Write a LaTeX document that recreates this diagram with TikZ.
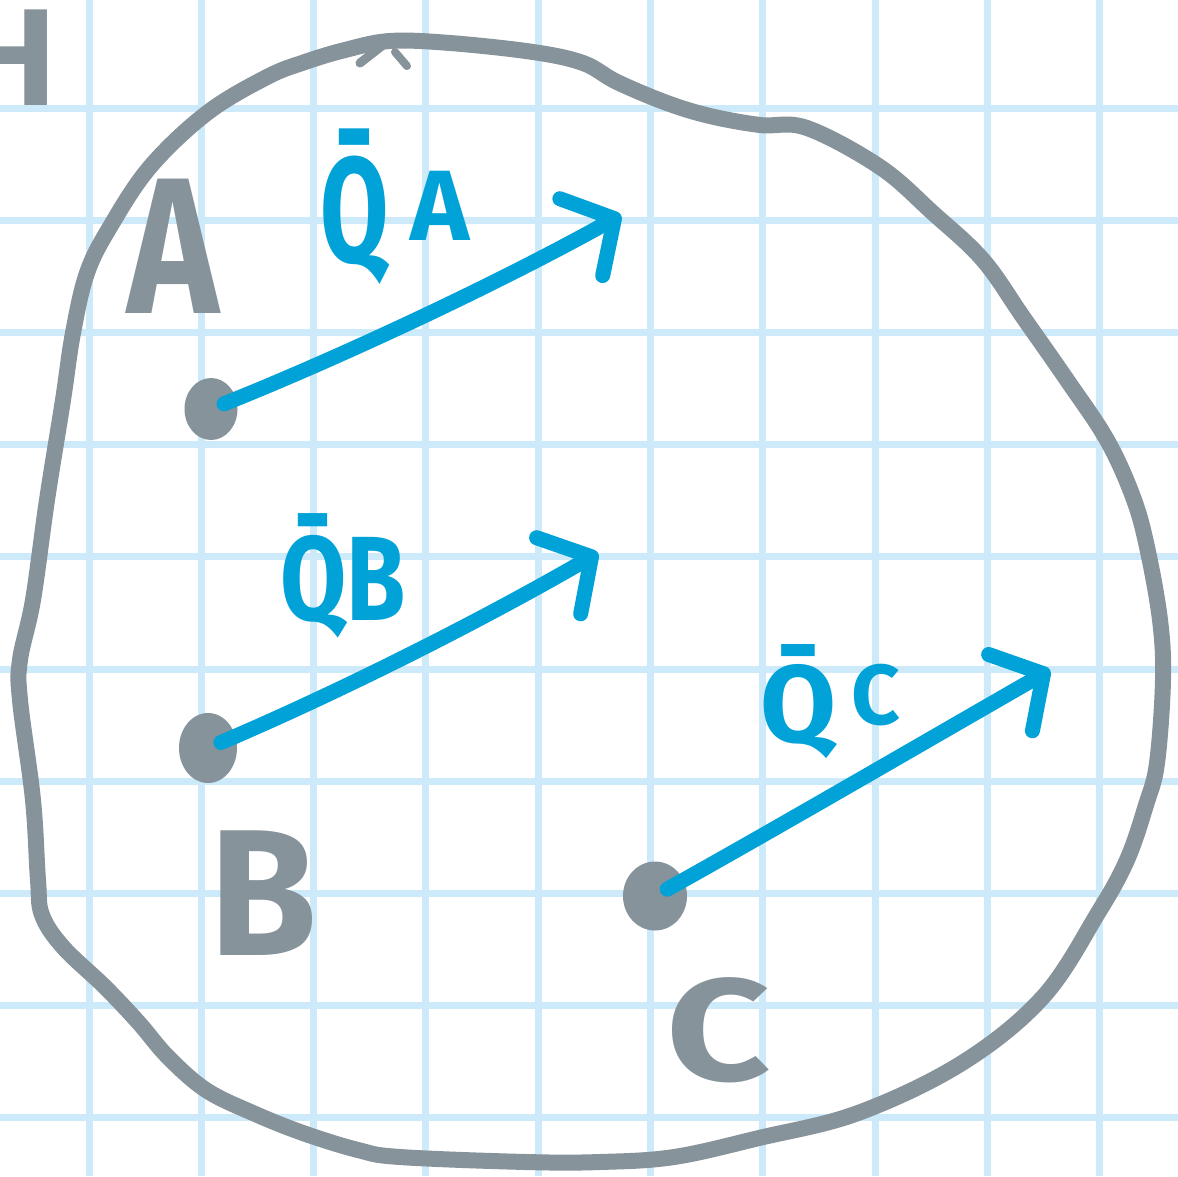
\documentclass[tikz,border=0pt]{standalone}
\usepackage{fontspec}
\setmainfont{Fira Sans}
\usetikzlibrary{arrows.meta,shapes.geometric}
\definecolor{ink}{HTML}{86939A}
\definecolor{pen}{HTML}{00A2D8}
\definecolor{gridc}{HTML}{CDEAFB}
\begin{document}
\begin{tikzpicture}[x=1pt,y=-1pt,
  outline/.style={draw=ink,line width=16pt,line cap=round,line join=round},
  dot/.style={ellipse,fill=ink,inner sep=0pt},
  vec/.style={draw=pen,line width=15pt,line cap=round,shorten <=14pt,
    -{Straight Barb[length=38pt 0 0,width=88pt 0 0,round]}},
  letter/.style={text=ink,inner sep=0pt,anchor=base},
  qlabel/.style={text=pen,inner sep=0pt,anchor=base}]
\useasboundingbox (0,0) rectangle (1178,1176);
\clip (0,0) rectangle (1178,1176);
\fill[white] (0,0) rectangle (1178,1176);
% grid paper
\foreach \k in {0,...,9} {
  \draw[gridc,line width=7pt] ({89+112.3*\k},0) -- ({89+112.3*\k},1176);
}
\foreach \k in {-1,0,...,9} {
  \draw[gridc,line width=7pt] (0,{108+112.2*\k}) -- (1178,{108+112.2*\k});
}
% outline of the body
\draw[outline] plot[smooth cycle, tension=0.6] coordinates {
  (345,50) (390,41) (450,43) (533,52) (583,63) (617,82) (667,103) (710,116)
  (760,125) (807,128) (880,167) (933,213) (983,260) (1023,317) (1067,380)
  (1107,440) (1133,497) (1147,547) (1160,620) (1163,680) (1157,763) (1146,805)
  (1127,860) (1098,913) (1043,997) (962,1063) (858,1113) (759,1138) (674,1157)
  (600,1162) (526,1162) (400,1157) (358,1150) (303,1133) (253,1113) (206,1090)
  (168,1057) (139,1023) (105,987) (63,947) (42,915) (38,880) (33,800) (20,700)
  (20,660) (33,600) (47,500) (63,400) (73,333) (87,273) (110,227) (150,167)
  (207,113) (267,77) (305,62)};
\draw[ink,line width=9pt,line cap=round] (360,63) -- (383,45);
\draw[ink,line width=8pt,line cap=round] (395,52) -- (407,66);
% letters
\node[letter,font=\bfseries\fontsize{138}{138}\selectfont,anchor=base west] (labH) at (-36,105) {H};
\node[letter,font=\bfseries\fontsize{194}{194}\selectfont,xscale=0.8] (labA) at (173,313) {A};
\node[letter,font=\bfseries\fontsize{180}{180}\selectfont,xscale=0.97] (labB) at (263,955) {B};
\node[letter,font=\bfseries\fontsize{145}{145}\selectfont,xscale=1.25] (labC) at (719,1080) {C};
% points
\node[dot,minimum width=53pt,minimum height=62pt] (dotA) at (211,409) {};
\node[dot,minimum width=58pt,minimum height=70pt] (dotB) at (208,748) {};
\node[dot,minimum width=64pt,minimum height=69pt] (dotC) at (655,896) {};
% vectors
\coordinate (tipA) at (621,215);
\coordinate (tipB) at (598,553);
\coordinate (tipC) at (1050,670);
\draw[vec] (dotA.center) .. controls +(130,-52) and +(-122,68) .. (tipA);
\draw[vec] (dotB.center) .. controls +(129,-55) and +(-121,70) .. (tipB);
\draw[vec] (dotC.center) .. controls +(122,-68) and +(-122,70) .. (tipC);
% vector labels
\node[qlabel,font=\bfseries\fontsize{150}{150}\selectfont] (labQA) at (395,262)
  {\scalebox{0.66}[1]{\={Q}}\hspace{22pt}\raisebox{22pt}{\fontsize{100}{100}\selectfont A}};
\node[qlabel,font=\bfseries\fontsize{120}{120}\selectfont,xscale=0.8] (labQB) at (343,620)
  {\={Q}B};
\node[qlabel,font=\bfseries\fontsize{110}{110}\selectfont] (labQC) at (830,742)
  {\={Q}\hspace{15pt}\raisebox{18pt}{\fontsize{85}{85}\selectfont C}};
\end{tikzpicture}
\end{document}
